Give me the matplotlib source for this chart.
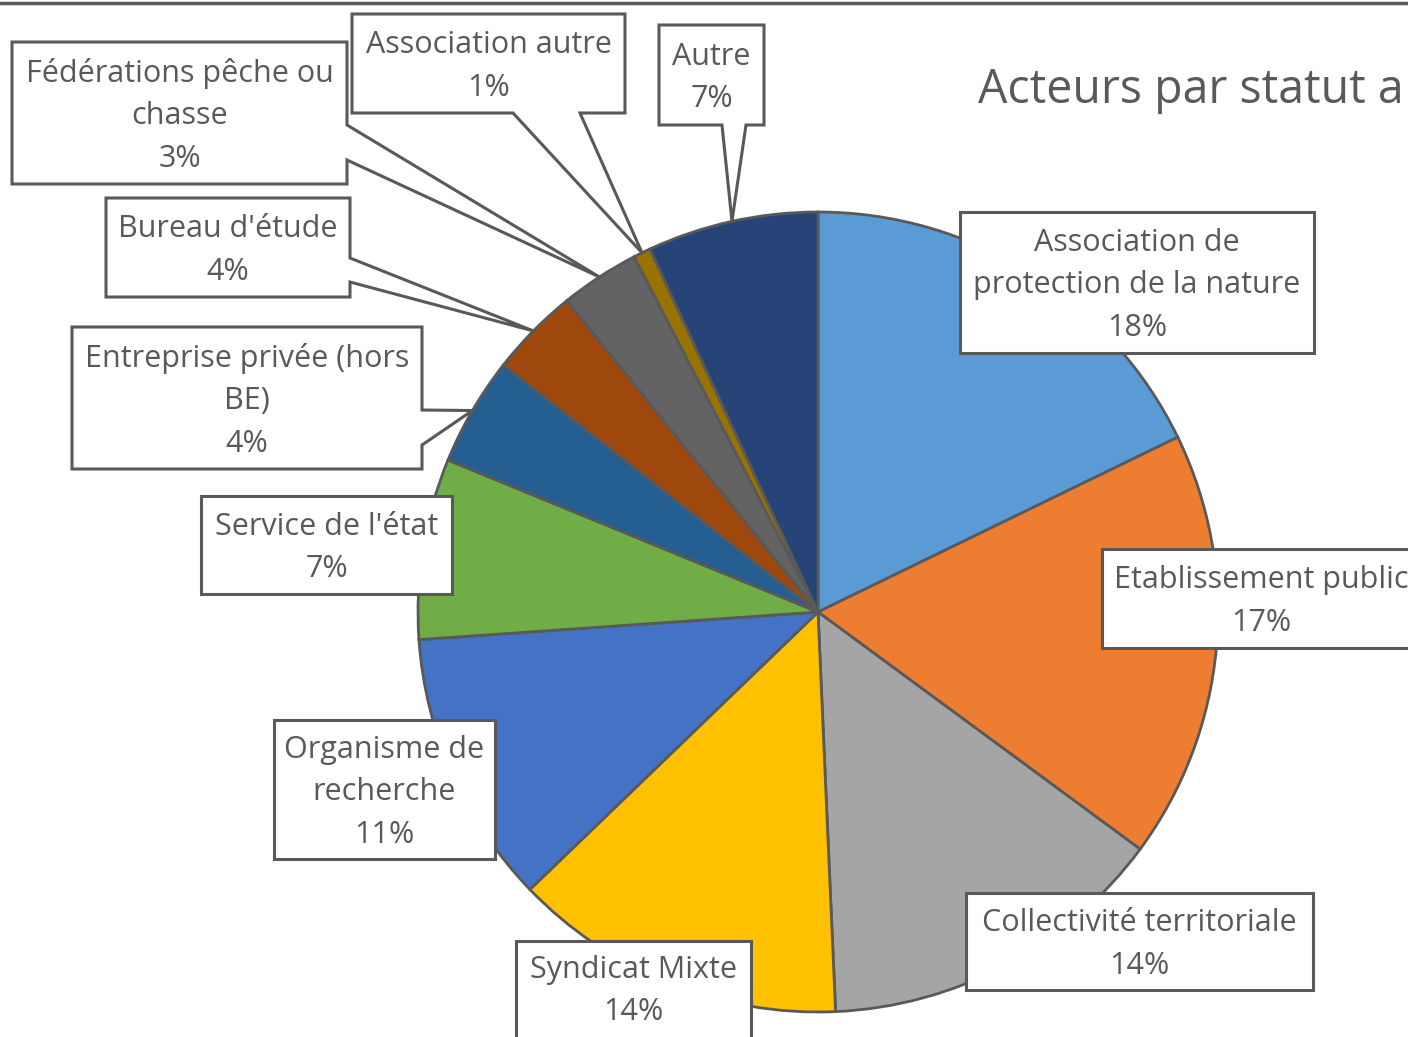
import matplotlib.pyplot as plt
from matplotlib.patches import Polygon
import numpy as np

plt.rcParams['font.family'] = ['Open Sans', 'DejaVu Sans']

# data, clockwise from 12 o'clock
categories = ['Association de\nprotection de la nature', 'Etablissement public',
              'Collectivité territoriale', 'Syndicat Mixte', 'Organisme de\nrecherche',
              "Service de l'état", 'Entreprise privée (hors\nBE)', "Bureau d'étude",
              'Fédérations pêche ou\nchasse', 'Association autre', 'Autre']
shares = [17.8, 17.3, 14.2, 13.5, 11.1, 7.3, 4.4, 3.6, 3.2, 0.7, 6.9]
colors = ['#5B9BD5', '#ED7D31', '#A5A5A5', '#FFC000', '#4472C4', '#70AD47',
          '#255E91', '#9E480E', '#636363', '#997300', '#264478']
title = 'Acteurs par statut a'

# layout in pixels (origin top-left): box x0, y0, x1, y1, callout (side, a, b)
W, H = 1408, 1037
CX, CY, R = 818, 612, 400
boxes = [
    (960, 212, 1314, 353, None),
    (1102, 549, 1420, 648, None),
    (966, 893, 1313, 990, None),
    (516, 941, 751, 1050, None),
    (274, 720, 495, 859, None),
    (201, 496, 452, 594, None),
    (72, 327, 422, 469, ('right', 410, 445)),
    (106, 198, 350, 297, ('right', 258, 282)),
    (12, 42, 347, 184, ('right', 125, 160)),
    (352, 14, 625, 113, ('bottom', 513, 580)),
    (659, 25, 764, 125, ('bottom', 722, 746)),
]
GREY = '#595959'

fig = plt.figure(figsize=(W / 100, H / 100), dpi=100)
ax = fig.add_axes([0, 0, 1, 1])

wedges, _ = ax.pie(shares, colors=colors, startangle=90, counterclock=False,
                   center=(CX, H - CY), radius=R,
                   wedgeprops=dict(edgecolor=GREY, linewidth=2))

total = sum(shares)
for w, name, val, (x0, y0, x1, y1, co) in zip(wedges, categories, shares, boxes):
    pts = [(x0, y0), (x1, y0)]
    if co is not None:
        th = np.radians((w.theta1 + w.theta2) / 2)
        tip = (CX + R * np.cos(th), CY - R * np.sin(th))
    if co and co[0] == 'right':
        pts += [(x1, co[1]), tip, (x1, co[2])]
    pts += [(x1, y1)]
    if co and co[0] == 'bottom':
        pts += [(co[2], y1), tip, (co[1], y1)]
    pts += [(x0, y1)]
    poly = Polygon([(x, H - y) for x, y in pts], closed=True, facecolor='white',
                   edgecolor=GREY, linewidth=2.2, joinstyle='miter', zorder=3)
    ax.add_patch(poly)
    txt = f"{name}\n{round(val / total * 100)}%"
    ax.text((x0 + min(x1, W + 12)) / 2, H - (y0 + min(y1, 1035)) / 2 - 3, txt,
            ha='center', va='center', fontsize=22, color=GREY,
            linespacing=1.55, zorder=4)

ax.text(978, H - 103, title, ha='left', va='baseline', fontsize=33.5, color=GREY)
ax.plot([0, W], [H - 3, H - 3], color=GREY, linewidth=2.5)

ax.set_xlim(0, W)
ax.set_ylim(0, H)
ax.set_aspect('equal')
ax.axis('off')
fig.savefig('out.png', dpi=100)
